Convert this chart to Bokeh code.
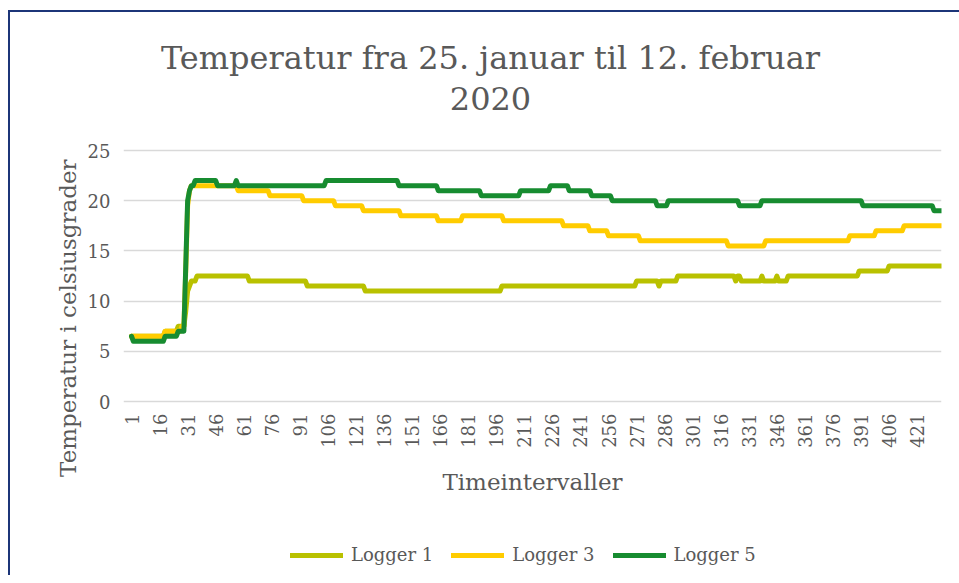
import numpy as np
from bokeh.plotting import figure
from bokeh.models import FixedTicker, Legend, LegendItem, Label, Title
from bokeh.embed import file_html
from bokeh.resources import INLINE

# ---------------- data ----------------
n_points = 434                      # hourly intervals
x_tick_labels = list(range(1, 422, 15))
y_ticks = [0, 5, 10, 15, 20, 25]

# each logger: index where a new reading level starts, and the reading (deg C)
logger1_start = [1, 19, 26, 30, 31, 32, 33, 36, 64, 95, 126, 199, 271, 283, 284,
                 293, 324, 325, 327, 338, 339, 346, 347, 352, 390, 406]
logger1_temp = [6.5, 7.0, 7.5, 9.0, 11.0, 11.5, 12.0, 12.5, 12.0, 11.5, 11.0, 11.5, 12.0, 11.5, 12.0,
                12.5, 12.0, 12.5, 12.0, 12.5, 12.0, 12.5, 12.0, 12.5, 13.0, 13.5]

logger3_start = [1, 19, 28, 30, 31, 32, 33, 58, 75, 93, 110, 125, 145, 165, 178,
                 200, 232, 246, 256, 273, 320, 340, 385, 399, 414]
logger3_temp = [6.5, 7.0, 7.5, 13.0, 19.5, 21.0, 21.5, 21.0, 20.5, 20.0, 19.5, 19.0, 18.5, 18.0, 18.5,
                18.0, 17.5, 17.0, 16.5, 16.0, 15.5, 16.0, 16.5, 17.0, 17.5]

logger5_start = [1, 2, 19, 26, 30, 31, 32, 33, 35, 47, 57, 58, 105, 144, 165,
                 188, 209, 225, 235, 247, 258, 282, 288, 326, 338, 392, 430]
logger5_temp = [6.5, 6.0, 6.5, 7.0, 13.5, 20.0, 21.0, 21.5, 22.0, 21.5, 22.0, 21.5, 22.0, 21.5, 21.0,
                20.5, 21.0, 21.5, 21.0, 20.5, 20.0, 19.5, 20.0, 19.5, 20.0, 19.5, 19.0]

series_names = ["Logger 1", "Logger 3", "Logger 5"]
series_colors = ["#b9c100", "#ffcc00", "#178c30"]

title_lines = ["Temperatur fra 25. januar til 12. februar", "2020"]
x_title = "Timeintervaller"
y_title = "Temperatur i celsiusgrader"


def expand(starts, temps, n):
    bounds = starts[1:] + [n + 1]
    lengths = [b - s for s, b in zip(starts, bounds)]
    return np.repeat(np.array(temps, dtype=float), lengths)


x = np.arange(1, n_points + 1)
series = [expand(logger1_start, logger1_temp, n_points),
          expand(logger3_start, logger3_temp, n_points),
          expand(logger5_start, logger5_temp, n_points)]

# ---------------- layout (page pixels) ----------------
FONT = "DejaVu Serif"
TEXT = "#595959"
CANVAS_X, CANVAS_Y = 10, 12          # canvas origin on the page (after margin + border)
PLOT_L, PLOT_R = 131, 941            # x of first / last point
FRAME_L = 123                        # frame starts a little left so the first tick label shows
Y0_PAGE, Y25_PAGE = 401, 150         # page y of 0 and 25 degrees
FRAME_BOTTOM = 575                   # the frame also holds the axis texts and the legend
PX_PER_DEG = (Y0_PAGE - Y25_PAGE) / 25.0
PX_PER_STEP = (PLOT_R - PLOT_L) / (n_points - 1)
frame_h = FRAME_BOTTOM - CANVAS_Y
y_top = (Y0_PAGE - CANVAS_Y) / PX_PER_DEG
y_bottom = -(FRAME_BOTTOM - Y0_PAGE) / PX_PER_DEG
x_start = 1 - (PLOT_L - FRAME_L) / PX_PER_STEP
canvas_w = 949

p = figure(title=None, frame_width=PLOT_R - FRAME_L, frame_height=frame_h,
           x_range=(x_start, n_points), y_range=(y_bottom, y_top),
           output_backend="svg", toolbar_location=None,
           min_border_left=FRAME_L - CANVAS_X, min_border_top=0,
           min_border_right=canvas_w - (FRAME_L - CANVAS_X) - (PLOT_R - FRAME_L),
           min_border_bottom=0)
p.styles = {"border-top": "2px solid #1c3578", "border-left": "2px solid #1c3578",
            "margin-top": "10px", "margin-left": "8px"}
p.outline_line_color = None
p.background_fill_color = "white"
p.border_fill_color = "white"

p.xgrid.visible = False
p.ygrid.grid_line_color = "#d9d9d9"
p.ygrid.grid_line_width = 1.3

p.xaxis.ticker = FixedTicker(ticks=x_tick_labels)
p.yaxis.ticker = FixedTicker(ticks=y_ticks)
p.xaxis.fixed_location = 0
for ax in (p.xaxis, p.yaxis):
    ax.axis_line_color = None
    ax.major_tick_line_color = None
    ax.minor_tick_line_color = None
    ax.major_label_text_font = FONT
    ax.major_label_text_color = TEXT
    ax.major_label_text_font_size = "18px"
    ax.axis_label_text_font = FONT
    ax.axis_label_text_color = TEXT
    ax.axis_label_text_font_size = "23px"
    ax.axis_label_text_font_style = "normal"
p.xaxis.major_label_orientation = np.pi / 2
p.xaxis.major_label_standoff = 6
p.yaxis.major_label_standoff = 7
p.xaxis.axis_label = x_title
p.xaxis.axis_label_standoff = 18

renderers = []
for ys, color in zip(series, series_colors):
    r = p.line(x, ys, line_color=color, line_width=5, line_join="round", line_cap="round")
    renderers.append(r)


def dx(page_x):
    return 1 + (page_x - PLOT_L) / PX_PER_STEP


def dy(page_y):
    return (Y0_PAGE - page_y) / PX_PER_DEG


for line_text, page_y in zip(title_lines, [57, 98]):
    p.add_layout(Label(x=dx(490), y=dy(page_y), text=line_text,
                       text_align="center", text_baseline="alphabetic",
                       text_font=FONT, text_font_size="32px", text_color=TEXT))

# y title, placed left of the tick labels, centred near page y 316
y_title_len = 314
p.add_layout(Title(text=y_title, align="right", offset=(316 - y_title_len / 2) - CANVAS_Y,
                   vertical_align="middle", standoff=6,
                   text_font=FONT, text_font_size="23px", text_font_style="normal",
                   text_color=TEXT), "left")

legend = Legend(items=[LegendItem(label=n, renderers=[r]) for n, r in zip(series_names, renderers)],
                orientation="horizontal", location=(290 - FRAME_L, FRAME_BOTTOM - 565),
                glyph_width=53, glyph_height=20, label_height=20, label_standoff=8, spacing=18,
                padding=0, margin=0, border_line_color=None, background_fill_alpha=0,
                label_text_font=FONT, label_text_font_size="18px", label_text_color=TEXT)
p.add_layout(legend, "center")

open("out.html", "w").write(file_html(p, INLINE))
